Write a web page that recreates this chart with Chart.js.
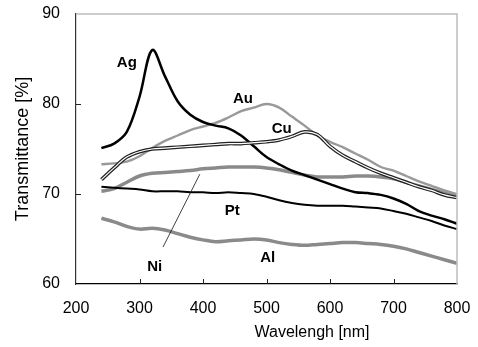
<!DOCTYPE html>
<html>
<head>
<meta charset="utf-8">
<script src="https://cdn.jsdelivr.net/npm/chart.js@4.4.1/dist/chart.umd.min.js"></script>
<style>
  html, body { margin: 0; padding: 0; background: #fff; }
  #wrap { width: 478px; height: 347px; }
</style>
</head>
<body>
<div id="wrap"><canvas id="myChart"></canvas></div>
<script>
// wavelength grid [nm]
const wavelength = [240,260,280,300,320,340,360,380,400,420,440,460,480,500,520,540,560,580,600,620,640,660,680,700,720,740,760,780,800];

// transmittance [%]
const ag = [75.1,75.6,76.9,80.8,86.0,83.1,80.3,78.8,78.0,77.6,77.3,76.5,75.3,74.1,73.3,72.6,72.1,71.6,71.1,70.6,70.2,70.1,69.9,69.5,68.9,68.1,67.6,67.2,66.7];
const au = [73.3,73.4,73.6,74.2,75.1,75.9,76.5,77.1,77.5,77.9,78.5,79.2,79.6,80.0,79.6,78.6,77.6,76.5,75.8,75.2,74.5,73.8,73.0,72.6,72.0,71.4,70.9,70.4,70.0];
const cu = [71.6,72.9,74.1,74.7,75.0,75.1,75.2,75.3,75.4,75.5,75.6,75.6,75.7,75.8,76.0,76.4,76.9,76.6,75.3,74.3,73.6,72.9,72.3,71.8,71.3,70.8,70.4,69.9,69.6];
const ni = [70.3,70.6,71.3,72.0,72.3,72.4,72.5,72.6,72.8,72.9,73.0,73.0,73.0,72.9,72.7,72.4,72.1,71.9,71.9,71.9,72.0,72.0,71.9,71.7,71.3,70.9,70.5,70.1,69.7];
const pt = [70.8,70.7,70.6,70.5,70.3,70.3,70.3,70.2,70.2,70.1,70.2,70.1,70.0,69.7,69.3,69.0,68.8,68.7,68.7,68.7,68.6,68.5,68.4,68.1,67.8,67.4,67.0,66.5,66.1];
const al = [67.3,66.9,66.4,66.1,66.2,66.0,65.6,65.2,64.9,64.7,64.8,64.9,65.0,64.9,64.6,64.4,64.3,64.4,64.5,64.6,64.6,64.5,64.4,64.2,63.9,63.5,63.1,62.7,62.3];

// curve labels: [text, wavelength, transmittance]
const curveLabels = [['Ag',280,84.6],['Au',463,80.6],['Cu',524,77.2],['Pt',446,68.1],['Ni',324,61.9],['Al',502,62.9]];
// leader line from "Ni" to its curve
const niLeader = [[337,64.1],[395,72.2]];

function pts(ys) {
  return wavelength.map((x, i) => ({ x: x, y: ys[i] }));
}

const tickFont = { family: '"Liberation Sans", Arial, sans-serif', size: 16 };

const extras = {
  id: 'extras',
  afterDraw(chart) {
    const ctx = chart.ctx, a = chart.chartArea;
    const xs = chart.scales.x, ys = chart.scales.y;
    ctx.save();
    // plot area border (top and right)
    ctx.strokeStyle = '#bdbdbd';
    ctx.lineWidth = 1.5;
    ctx.beginPath();
    ctx.moveTo(a.left, a.top); ctx.lineTo(a.right, a.top); ctx.lineTo(a.right, a.bottom);
    ctx.stroke();
    // inside tick marks
    ctx.strokeStyle = '#222';
    ctx.lineWidth = 1;
    ctx.beginPath();
    for (let v = 300; v < 800; v += 100) {
      const px = Math.round(xs.getPixelForValue(v)) + 0.5;
      ctx.moveTo(px, a.bottom); ctx.lineTo(px, a.bottom - 5);
    }
    for (let v = 70; v < 90; v += 10) {
      const py = Math.round(ys.getPixelForValue(v)) + 0.5;
      ctx.moveTo(a.left, py); ctx.lineTo(a.left + 5, py);
    }
    ctx.stroke();
    // Ni leader line
    ctx.strokeStyle = '#111';
    ctx.lineWidth = 0.8;
    ctx.beginPath();
    ctx.moveTo(xs.getPixelForValue(niLeader[0][0]), ys.getPixelForValue(niLeader[0][1]));
    ctx.lineTo(xs.getPixelForValue(niLeader[1][0]), ys.getPixelForValue(niLeader[1][1]));
    ctx.stroke();
    // curve labels
    ctx.fillStyle = '#000';
    ctx.font = 'bold 15px "Liberation Sans", Arial, sans-serif';
    ctx.textAlign = 'center';
    ctx.textBaseline = 'middle';
    curveLabels.forEach(l => ctx.fillText(l[0], xs.getPixelForValue(l[1]), ys.getPixelForValue(l[2])));
    // x axis title
    ctx.font = '16px "Liberation Sans", Arial, sans-serif';
    ctx.fillText('Wavelengh [nm]', 312, 333);
    ctx.restore();
  }
};

const ctx = document.getElementById('myChart');
new Chart(ctx, {
  type: 'line',
  data: {
    datasets: [
      { label: 'Cu inner', data: pts(cu), borderColor: '#fff', borderWidth: 1.2, order: 0 },
      { label: 'Cu', data: pts(cu), borderColor: '#222', borderWidth: 3.6, order: 1 },
      { label: 'Ag', data: pts(ag), borderColor: '#000', borderWidth: 2.5, order: 2 },
      { label: 'Au', data: pts(au), borderColor: '#999', borderWidth: 2.4, order: 3 },
      { label: 'Pt', data: pts(pt), borderColor: '#000', borderWidth: 2, order: 2 },
      { label: 'Ni', data: pts(ni), borderColor: '#8a8a8a', borderWidth: 3.5, order: 4 },
      { label: 'Al', data: pts(al), borderColor: '#8a8a8a', borderWidth: 3.5, order: 4 }
    ]
  },
  options: {
    responsive: true,
    maintainAspectRatio: false,
    animation: false,
    layout: { padding: { left: 0, right: 21, top: 14, bottom: 0 } },
    elements: { point: { radius: 0 }, line: { tension: 0.35, fill: false } },
    plugins: { legend: { display: false }, tooltip: { enabled: false } },
    scales: {
      x: {
        type: 'linear', min: 200, max: 800,
        ticks: { stepSize: 100, color: '#000', font: tickFont, padding: 15, maxRotation: 0 },
        grid: { display: false, drawTicks: false },
        border: { color: '#000', width: 1.2 },
        afterFit(s) { s.height = 63; s.paddingLeft = 0; s.paddingRight = 0; }
      },
      y: {
        min: 60, max: 90,
        ticks: { stepSize: 10, color: '#000', font: tickFont, padding: 16 },
        grid: { display: false, drawTicks: false },
        border: { color: '#333', width: 1.2 },
        title: { display: true, text: 'Transmittance [%]', color: '#000',
                 font: { family: '"Liberation Sans", Arial, sans-serif', size: 18 }, padding: { top: 12, bottom: 0 } },
        afterFit(s) { s.width = 76; s.paddingTop = 0; s.paddingBottom = 0; }
      }
    }
  },
  plugins: [extras]
});
</script>
</body>
</html>
